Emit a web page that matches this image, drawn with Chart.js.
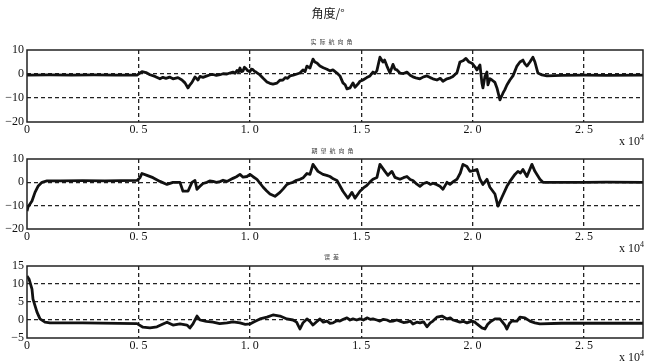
<!DOCTYPE html>
<html><head><meta charset="utf-8">
<script src="https://cdn.jsdelivr.net/npm/chart.js@4"></script>
<style>
html,body{margin:0;padding:0;background:#fff;}
#wrap{position:relative;width:648px;height:364px;overflow:hidden;background:#fff;}
canvas{position:absolute;left:0;top:0;}
.t{position:absolute;white-space:nowrap;color:#111;line-height:1;}
.main{left:328px;top:12px;font:12px "Noto Sans CJK SC";transform:translate(-50%,-50%);color:#1a1a1a;}
.sub{font:12px "Noto Sans CJK SC";letter-spacing:6px;color:#444;transform:translate(-50%,-50%) scale(0.5);}
.xe{font:12px "Liberation Serif";transform:translateY(-50%);left:619px;}
.xe sup{font-size:8px;vertical-align:5px;}
</style></head><body>
<div id="wrap">
<canvas id="c1" width="648" height="364"></canvas>
<canvas id="c2" width="648" height="364"></canvas>
<canvas id="c3" width="648" height="364"></canvas>
<div class="t main">角度/°</div>
<div class="t sub" style="left:333px;top:41px">实际航向角</div>
<div class="t sub" style="left:334px;top:150px">期望航向角</div>
<div class="t sub" style="left:333px;top:256px">误差</div>
<div class="t xe" style="top:141px">x 10<sup>4</sup></div>
<div class="t xe" style="top:248px">x 10<sup>4</sup></div>
<div class="t xe" style="top:357px">x 10<sup>4</sup></div>
</div>
<script>
// ---- data ----
const xTickValues = [0, 5000, 10000, 15000, 20000, 25000];
const xTickLabels = ["0", "0. 5", "1. 0", "1. 5", "2. 0", "2. 5"];
const xMax = 27650;

const angleTicks = [-20, -10, 0, 10];
const angleTickLabels = ["\u221220", "\u221210", "0", "10"];
const errorTicks = [-5, 0, 5, 10, 15];
const errorTickLabels = ["\u22125", "0", "5", "10", "15"];

// actual heading angle
const actualX = [
  0, 1000, 2000, 3000, 4000, 4940, 5161, 5341, 5520, 5745,
  5969, 6100, 6238, 6400, 6552, 6777, 6956, 7091, 7226, 7315,
  7405, 7540, 7674, 7764, 7900, 8078, 8200, 8348, 8500, 8662,
  8800, 8976, 9100, 9245, 9340, 9425, 9500, 9559, 9620, 9694,
  9760, 9827, 9900, 10008, 10070, 10143, 10210, 10278, 10457, 10600,
  10771, 10900, 11040, 11220, 11350, 11489, 11600, 11700, 11803, 11950,
  12118, 12252, 12387, 12480, 12566, 12701, 12836, 12920, 13015, 13150,
  13300, 13464, 13600, 13733, 13913, 14047, 14182, 14280, 14362, 14496,
  14631, 14721, 14855, 14950, 15080, 15250, 15394, 15528, 15620, 15708,
  15842, 15977, 16050, 16157, 16291, 16426, 16520, 16606, 16740, 16900,
  17054, 17200, 17324, 17450, 17638, 17800, 17952, 18100, 18221, 18400,
  18550, 18670, 18850, 19000, 19119, 19298, 19433, 19568, 19702, 19837,
  19972, 20106, 20196, 20331, 20420, 20465, 20555, 20645, 20690, 20780,
  20869, 21004, 21094, 21228, 21363, 21450, 21542, 21677, 21812, 21900,
  21991, 22126, 22260, 22350, 22440, 22574, 22709, 22799, 22934, 23113,
  23338, 24000, 25000, 26000, 27650
];
const actualY = [
  -0.5, -0.4, -0.5, -0.4, -0.5, -0.5, 1.0, 0.6, -0.3, -1.0,
  -2.0, -1.4, -1.8, -1.3, -2.0, -1.5, -2.5, -3.7, -5.8, -4.5,
  -3.5, -1.2, -2.5, -1.0, -1.4, -0.8, -0.4, -0.2, -0.6, -0.3,
  0.1, 0.0, 0.4, 0.8, 0.3, 1.5, 0.9, 2.5, 1.0, 1.2,
  2.8, 2.3, 1.4, 1.0, 2.0, 1.8, 1.1, 0.8, -0.4, -1.8,
  -3.3, -3.9, -4.2, -3.8, -2.6, -2.5, -1.5, -1.8, -0.8, -0.5,
  0.0, 0.4, 1.7, 1.0, 3.3, 2.5, 6.2, 5.0, 4.6, 3.3,
  2.6, 2.0, 1.3, 1.7, 0.4, -0.8, -3.7, -4.5, -6.2, -5.8,
  -3.7, -5.5, -4.2, -3.0, -2.5, -1.5, -0.8, 0.8, 0.2, 1.5,
  7.0, 5.0, 5.8, 3.3, 0.4, 4.0, 2.0, 1.7, 0.4, 0.2,
  0.8, -0.5, -1.2, -1.6, -2.0, -1.2, -0.8, -1.5, -2.0, -2.5,
  -1.8, -3.0, -2.0, -1.6, -1.0, 0.5, 5.0, 5.5, 6.5, 5.0,
  4.5, 3.0, 1.7, 3.8, -3.7, -5.8, -1.0, 0.8, -4.5, -2.0,
  -2.5, -3.5, -5.8, -10.8, -8.0, -6.5, -4.6, -2.5, -0.8, 1.2,
  3.3, 5.0, 5.8, 4.2, 3.3, 5.0, 7.0, 5.0, 0.4, -0.4,
  -0.8, -0.6, -0.5, -0.6, -0.5
];

// desired heading angle
const desiredX = [
  0, 45, 224, 359, 494, 673, 898, 1500, 2500, 3500,
  4937, 5072, 5161, 5386, 5655, 5969, 6283, 6552, 6866, 7001,
  7226, 7405, 7540, 7630, 7764, 7900, 8078, 8200, 8348, 8500,
  8662, 8800, 8976, 9100, 9245, 9400, 9559, 9700, 9874, 10008,
  10150, 10322, 10592, 10750, 10906, 11130, 11355, 11500, 11669, 11800,
  11938, 12100, 12252, 12400, 12566, 12701, 12836, 13060, 13284, 13450,
  13598, 13750, 13913, 14182, 14406, 14586, 14721, 14945, 15100, 15259,
  15400, 15528, 15708, 15842, 16067, 16202, 16381, 16516, 16740, 16900,
  17054, 17200, 17324, 17500, 17638, 17800, 17952, 18100, 18221, 18400,
  18535, 18670, 18850, 18984, 19150, 19298, 19450, 19568, 19747, 19882,
  20050, 20196, 20331, 20465, 20645, 20779, 21004, 21139, 21318, 21542,
  21677, 21901, 22036, 22150, 22260, 22440, 22664, 22799, 23023, 23158,
  25000, 26000, 27650
];
const desiredY = [
  -12.3, -10.6, -8.0, -4.3, -1.7, 0.0, 0.6, 0.6, 0.7, 0.6,
  0.8, 2.0, 3.8, 3.0, 2.0, 0.4, -0.9, 0.0, 0.0, -3.8,
  -3.8, 0.0, 0.8, -3.0, -1.7, -0.5, 0.0, 0.6, 0.4, 0.0,
  0.3, 0.9, 0.4, 1.0, 1.7, 2.4, 3.4, 2.2, 2.5, 3.4,
  2.4, 1.3, -2.0, -3.6, -5.0, -6.0, -4.3, -2.8, -0.9, -0.4,
  0.0, 0.9, 1.3, 2.0, 3.8, 3.4, 7.7, 4.7, 3.4, 3.0,
  2.5, 1.5, 0.8, -3.8, -6.8, -4.3, -6.8, -3.8, -2.4, -1.3,
  0.2, 1.3, 2.1, 7.7, 4.7, 3.0, 4.7, 2.1, 1.3, 2.0,
  2.5, 1.2, 0.8, -0.8, -1.7, -0.5, 0.0, -0.9, -0.4, -1.0,
  -1.7, -3.0, 0.0, -0.9, 0.4, 1.3, 4.0, 7.7, 6.8, 4.7,
  5.0, 5.5, 1.3, -0.9, 1.3, -2.1, -5.0, -10.2, -6.4, -1.7,
  0.4, 3.4, 4.7, 4.0, 5.5, 2.5, 7.7, 4.7, 1.3, 0.0,
  0.0, 0.1, 0.0
];

// error
const errorX = [
  0, 90, 224, 269, 449, 583, 808, 1032, 2500, 4937,
  5206, 5520, 5834, 6104, 6283, 6552, 6866, 7181, 7315, 7450,
  7630, 7764, 8050, 8348, 8650, 8976, 9250, 9559, 9800, 10008,
  10200, 10457, 10771, 11040, 11355, 11669, 11938, 12100, 12252, 12387,
  12566, 12700, 12836, 13000, 13150, 13300, 13464, 13600, 13733, 13900,
  14047, 14200, 14362, 14500, 14631, 14800, 14945, 15100, 15259, 15400,
  15528, 15700, 15842, 16000, 16157, 16300, 16426, 16600, 16740, 16900,
  17054, 17200, 17324, 17500, 17638, 17800, 17952, 18100, 18221, 18400,
  18625, 18850, 19000, 19119, 19300, 19433, 19600, 19747, 19972, 20100,
  20196, 20420, 20555, 20680, 20779, 21004, 21228, 21453, 21542, 21650,
  21767, 21991, 22126, 22350, 22574, 22700, 22799, 23023, 24000, 27650
];
const errorY = [
  12.2, 11.4, 8.6, 5.8, 2.2, 0.3, -0.6, -0.8, -0.8, -1.0,
  -2.0, -2.2, -1.9, -1.1, -0.6, -1.4, -1.1, -1.4, -2.2, -1.1,
  1.1, 0.0, -0.4, -0.6, -1.0, -0.8, -0.5, -0.8, -1.2, -1.1,
  -0.5, 0.3, 0.8, 1.4, 1.1, 0.3, 0.0, -0.6, -2.5, -0.8,
  0.3, -0.4, -1.4, -0.5, 0.3, -0.6, -0.3, -0.9, -0.8, -0.2,
  -0.3, 0.2, 0.6, 0.0, 0.3, 0.0, 0.3, 0.0, 0.6, 0.2,
  0.3, 0.0, -0.3, 0.2, 0.0, -0.4, -0.3, 0.0, -0.3, -0.7,
  -0.6, -0.3, -1.1, -0.6, -0.8, -0.5, -1.9, -0.8, -0.3, 0.8,
  1.1, 0.3, 0.6, 0.0, -0.3, -0.6, -0.4, -0.8, -0.3, -0.6,
  -1.1, -2.2, -2.5, -1.2, -0.6, 0.3, 0.3, -1.4, -2.5, -1.0,
  -0.3, -0.3, 0.8, 0.6, -0.3, -0.6, -0.8, -1.1, -0.9, -0.9
];

// ---- drawing ----
const FONT = {family: '"Liberation Serif", "DejaVu Serif", serif', size: 12};
const XH = 20;

const boxPlugin = {
  id: 'box',
  afterDatasetsDraw(chart) {
    const {ctx, chartArea: a} = chart;
    ctx.save();
    ctx.setLineDash([]);
    ctx.strokeStyle = '#222';
    ctx.lineWidth = 1.5;
    ctx.strokeRect(a.left, a.top, a.right - a.left, a.bottom - a.top);
    ctx.restore();
  }
};

function makeChart(id, xs, ys, yTicks, yLabels, top, bottom) {
  const yMin = yTicks[0], yMax = yTicks[yTicks.length - 1];
  const n = Math.min(xs.length, ys.length);
  const pts = xs.slice(0, n).map((x, i) => ({x: x, y: ys[i]}));
  return new Chart(document.getElementById(id), {
    type: 'line',
    data: {datasets: [{
      data: pts,
      borderColor: '#111',
      borderWidth: 2.8,
      borderJoinStyle: 'round',
      pointRadius: 0,
      tension: 0,
      fill: false
    }]},
    plugins: [boxPlugin],
    options: {
      responsive: false,
      animation: false,
      events: [],
      layout: {padding: {top: top, bottom: 364 - bottom - XH, left: 0, right: 5}},
      plugins: {legend: {display: false}, title: {display: false}, tooltip: {enabled: false}},
      scales: {
        x: {
          type: 'linear', min: 0, max: xMax,
          afterBuildTicks: s => { s.ticks = xTickValues.map(v => ({value: v})); },
          afterFit: s => { s.height = XH; s.paddingLeft = 0; s.paddingRight = 0; },
          ticks: {
            autoSkip: false, maxRotation: 0, padding: 1, color: '#111', font: FONT,
            callback: v => { const k = xTickValues.indexOf(v); return k >= 0 ? xTickLabels[k] : ''; }
          },
          grid: {
            drawTicks: false, lineWidth: 1.3,
            color: c => (c.tick && (c.tick.value === 0 || c.tick.value === xMax)) ? 'rgba(0,0,0,0)' : '#222'
          },
          border: {display: false, dash: [4, 3]}
        },
        y: {
          type: 'linear', min: yMin, max: yMax,
          afterBuildTicks: s => { s.ticks = yTicks.map(v => ({value: v})); },
          afterFit: s => { s.width = 27; s.paddingTop = 0; s.paddingBottom = 0; },
          ticks: {
            autoSkip: false, padding: 3, color: '#111', font: FONT,
            callback: v => { const k = yTicks.indexOf(v); return k >= 0 ? yLabels[k] : ''; }
          },
          grid: {
            drawTicks: false, lineWidth: 1.3,
            color: c => (c.tick && (c.tick.value === yMin || c.tick.value === yMax)) ? 'rgba(0,0,0,0)' : '#222'
          },
          border: {display: false, dash: [4, 3]}
        }
      }
    }
  });
}

makeChart('c1', actualX, actualY, angleTicks, angleTickLabels, 50, 122);
makeChart('c2', desiredX, desiredY, angleTicks, angleTickLabels, 159, 229);
makeChart('c3', errorX, errorY, errorTicks, errorTickLabels, 266, 338);
</script>
</body></html>
